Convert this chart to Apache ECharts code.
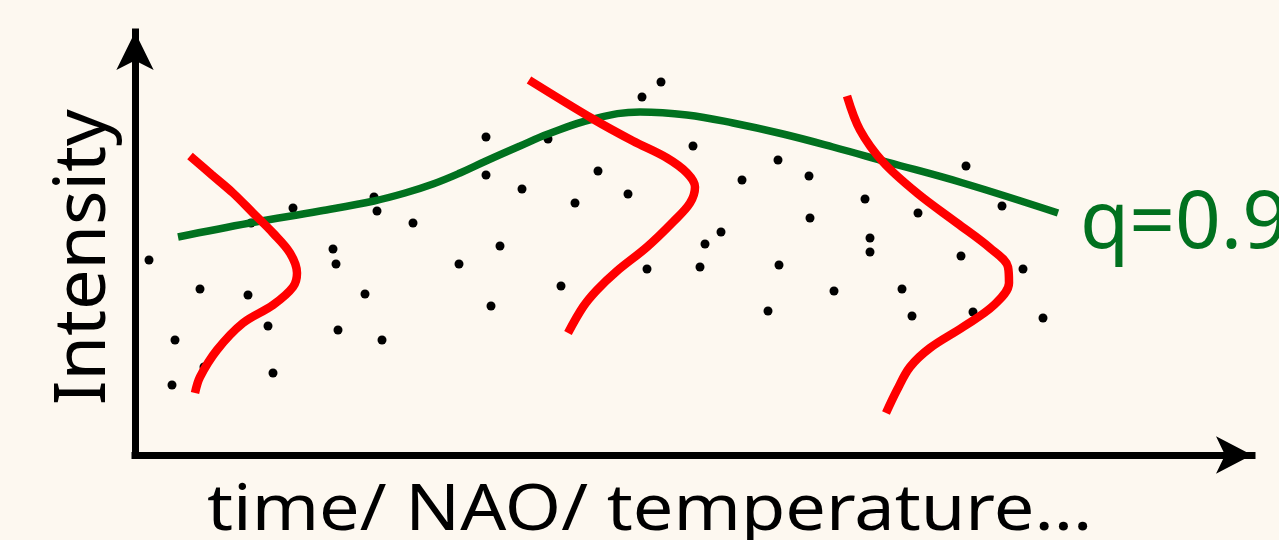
<!DOCTYPE html>
<html>
<head>
<meta charset="utf-8">
<script src="https://cdn.jsdelivr.net/npm/echarts@6/dist/echarts.min.js"></script>
<style>
  html, body { margin: 0; padding: 0; background: #fdf8f0; }
  #mainChart { width: 1279px; height: 540px; }
</style>
</head>
<body>
<div id="mainChart"></div>
<script>
// observations: [x, intensity] (arbitrary units, origin at the axes)
var observations = [
    [14, 195], [37, 70], [40, 115], [65, 166], [69, 88], [113, 160], [116, 232],
    [133, 129], [138, 82], [158, 247], [198, 206], [201, 191], [203, 125], [230, 161],
    [239, 258], [242, 244], [247, 115], [278, 232], [324, 191], [351, 318], [351, 280],
    [356, 149], [365, 209], [387, 266], [413, 316], [426, 169], [440, 252], [463, 284],
    [493, 261], [507, 358], [512, 186], [526, 373], [558, 309], [565, 188], [570, 211],
    [586, 223], [607, 275], [633, 144], [643, 295], [644, 190], [674, 279], [675, 237],
    [699, 164], [730, 256], [735, 217], [735, 203], [767, 166], [777, 139], [783, 242],
    [826, 199], [831, 289], [838, 143], [867, 249], [888, 186], [908, 137]
];

// 0.9 quantile regression curve
var quantileLine = [
    [43, 218], [115, 232], [185, 244], [239, 254], [270, 262], [298, 271], [325, 282],
    [351, 294], [385, 309], [413, 321], [458, 336], [505, 343], [552, 340], [598, 332],
    [648, 321], [698, 308], [752, 293], [828, 272], [923, 242]
];

// conditional distributions
var distA = [
    [55, 299], [77, 280], [98, 262], [118, 242], [138, 222], [155, 202], [162, 182],
    [158, 168], [138, 150], [108, 132], [82, 105], [65, 78], [60, 62]
];
var distB = [
    [394, 375], [458, 336], [498, 314], [532, 297], [552, 282], [560, 268], [555, 252],
    [538, 233], [512, 208], [482, 184], [462, 165], [448, 148], [433, 122]
];
var distC = [
    [712, 359], [725, 325], [748, 293], [782, 262], [822, 232], [855, 207], [873, 188],
    [874, 172], [859, 150], [828, 128], [795, 107], [775, 88], [762, 65], [751, 42]
];

var xTitle = 'time/ NAO/ temperature...';
var yTitle = 'Intensity';
var quantileLabel = 'q=0.9';

var myChart = echarts.init(document.getElementById('mainChart'));

function distSeries(name, data) {
    return {
        name: name, type: 'line', smooth: 0.35, showSymbol: false, silent: true, z: 4,
        lineStyle: { color: '#ff0000', width: 8.5 },
        data: data
    };
}

var axisLine = function (size) {
    return {
        show: true, onZero: false,
        symbol: ['none', 'arrow'], symbolSize: size,
        lineStyle: { color: '#000', width: 7, cap: 'square' }
    };
};

option = {
    backgroundColor: '#fdf8f0',
    animation: false,
    grid: { left: 135, right: 27, top: 32, bottom: 85 },
    xAxis: {
        type: 'value', min: 0, max: 1117,
        axisLine: axisLine([28, 36]),
        axisTick: { show: false }, axisLabel: { show: false }, splitLine: { show: false }
    },
    yAxis: {
        type: 'value', min: 0, max: 423,
        axisLine: axisLine([28, 38]),
        axisTick: { show: false }, axisLabel: { show: false }, splitLine: { show: false }
    },
    graphic: [
        {
            // the original label is drawn slightly stretched
            type: 'text', x: 207, y: 480, scaleX: 1.127,
            style: { text: xTitle, fill: '#000', font: '64px "Noto Sans"' }
        },
        {
            type: 'text', x: 48, y: 405, rotation: Math.PI / 2,
            style: { text: yTitle, fill: '#000', font: '72px "Noto Sans"' }
        }
    ],
    series: [
        {
            name: 'observations', type: 'scatter', symbolSize: 9, z: 2,
            itemStyle: { color: '#000', opacity: 1 },
            data: observations
        },
        {
            name: 'quantile', type: 'line', smooth: 0.4, showSymbol: false, z: 3,
            lineStyle: { color: '#01711f', width: 7.5 },
            endLabel: {
                show: true, formatter: quantileLabel, distance: 22, offset: [0, 12],
                color: '#01711f', fontFamily: 'Noto Sans', fontSize: 80
            },
            data: quantileLine
        },
        distSeries('dist1', distA),
        distSeries('dist2', distB),
        distSeries('dist3', distC)
    ]
};

myChart.setOption(option);
</script>
</body>
</html>
